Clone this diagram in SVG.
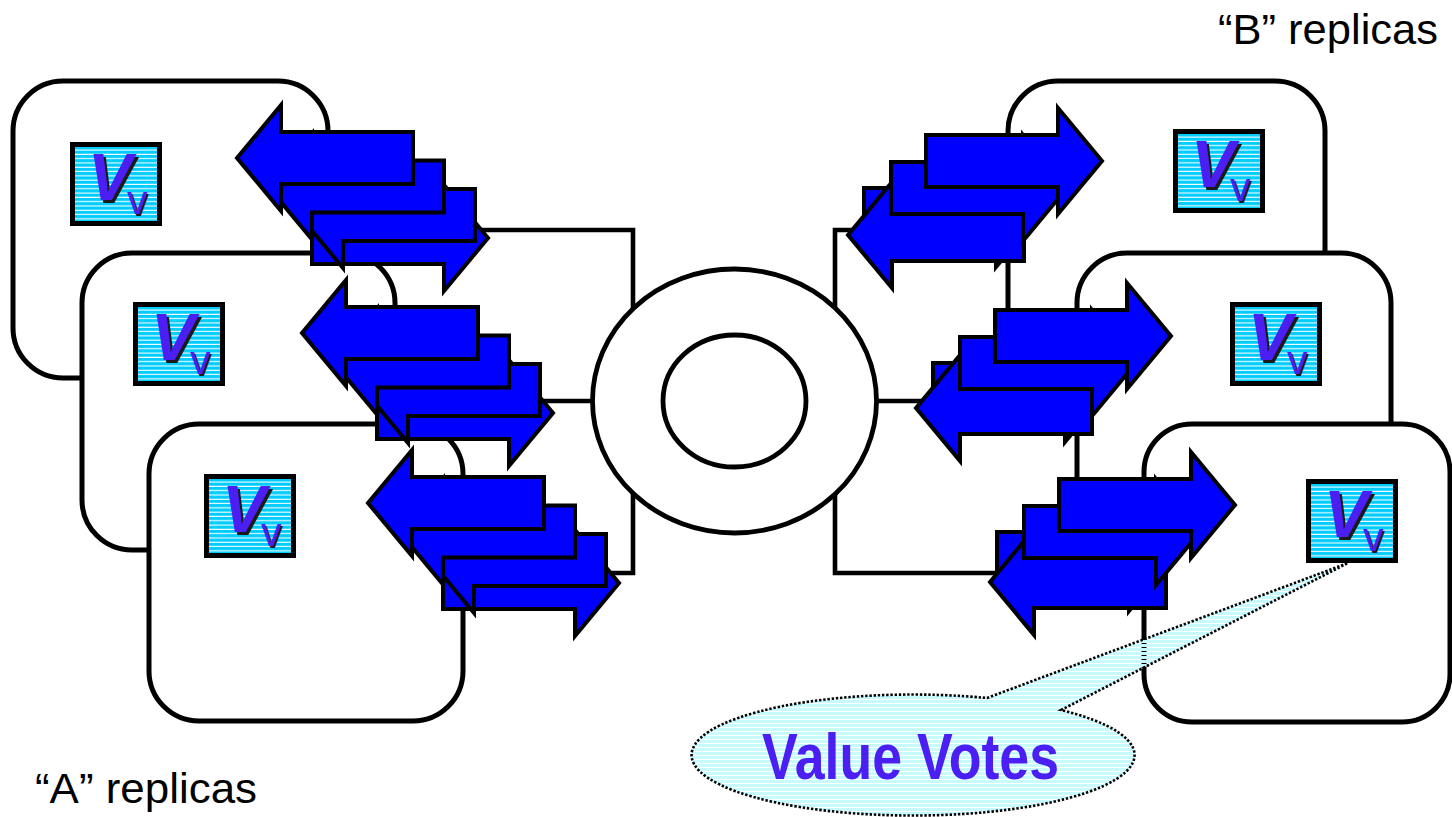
<svg xmlns="http://www.w3.org/2000/svg" xmlns:xlink="http://www.w3.org/1999/xlink" width="1452" height="817" viewBox="0 0 1452 817">
  <defs>
    <style>
      .box{fill:#fff;stroke:#000;stroke-width:5}
      .wire{fill:none;stroke:#000;stroke-width:4.6}
      .ring{fill:#fff;stroke:#000;stroke-width:4.8}
      .arw{fill:#0000FF;stroke:#000;stroke-width:4;stroke-linejoin:miter}
      .lbl{font-family:"Liberation Sans Narrow","Liberation Sans",Arial,sans-serif;font-size:43px;fill:#000}
      .vbig{font-family:"Liberation Sans",Arial,sans-serif;font-size:66px;font-weight:bold;font-style:italic}
      .vsub{font-family:"Liberation Sans",Arial,sans-serif;font-size:41px}
      .ink{fill:#4B1EF2}
      .shade{fill:#1a1a1a}
      .callout{fill:url(#paleLines);stroke:#000;stroke-width:2.6;stroke-dasharray:2.4 1.8}
      .votes{font-family:"Liberation Sans Narrow","Liberation Sans",Arial,sans-serif;font-size:65px;font-weight:bold;fill:#4B1EF2}
    </style>
    <!-- striped cyan fill of the value tiles -->
    <pattern id="cyanLines" width="8" height="4.3" patternUnits="userSpaceOnUse">
      <rect width="8" height="4.3" fill="#00CCFF"/>
      <rect y="3.2" width="8" height="1.1" fill="#fff"/>
    </pattern>
    <!-- pale striped fill of the speech bubble (gaps left open) -->
    <pattern id="paleLines" width="8" height="4" patternUnits="userSpaceOnUse">
      <rect width="8" height="3" fill="#C8FBFF"/>
    </pattern>
    <!-- value tile: V with subscript v -->
    <g id="vv">
      <rect x="2.5" y="2.5" width="87" height="79" fill="url(#cyanLines)" stroke="#000" stroke-width="5"/>
      <text x="20.5" y="60.5" class="vbig shade">V</text>
      <text x="18" y="58" class="vbig ink">V</text>
      <text x="58.5" y="73.5" class="vsub shade">v</text>
      <text x="57" y="72" class="vsub ink">v</text>
    </g>
    <!-- block arrows, tip at the origin -->
    <path id="arrowL" class="arw" d="M0,0 L44,-53 L44,-26 L176,-26 L176,26 L44,26 L44,53 Z"/>
    <path id="arrowR" class="arw" d="M0,0 L-44,-53 L-44,-26 L-176,-26 L-176,26 L-44,26 L-44,53 Z"/>
  </defs>

  <rect width="1452" height="817" fill="#fff"/>

  <!-- A replicas -->
  <g id="replica-a1">
    <rect class="box" x="13" y="81" width="315" height="297" rx="50"/>
    <use xlink:href="#vv" x="70" y="142"/>
  </g>
  <g id="replica-a2">
    <rect class="box" x="82" y="253" width="313" height="297" rx="50"/>
    <use xlink:href="#vv" x="133" y="302"/>
  </g>
  <g id="replica-a3">
    <rect class="box" x="149" y="424" width="314" height="297" rx="50"/>
    <use xlink:href="#vv" x="204" y="474"/>
  </g>

  <!-- B replicas -->
  <g id="replica-b1">
    <rect class="box" x="1008" y="81" width="317" height="297" rx="50"/>
    <use xlink:href="#vv" x="1173" y="129"/>
  </g>
  <g id="replica-b2">
    <rect class="box" x="1077" y="253" width="314" height="297" rx="50"/>
    <use xlink:href="#vv" x="1230" y="302"/>
  </g>
  <g id="replica-b3">
    <rect class="box" x="1144" y="424" width="306" height="298" rx="48"/>
    <use xlink:href="#vv" x="1306" y="479"/>
  </g>

  <!-- wiring between the replicas and the ring -->
  <g id="connectors">
    <polyline class="wire" points="328,230 633,230 633,330"/>
    <polyline class="wire" points="395,401 610,401"/>
    <polyline class="wire" points="633,470 633,573 463,573"/>
    <polyline class="wire" points="835,330 835,230 1008,230"/>
    <polyline class="wire" points="860,401 1077,401"/>
    <polyline class="wire" points="835,470 835,573 1144,573"/>
  </g>

  <!-- ring -->
  <g id="ring">
    <ellipse class="ring" cx="734.5" cy="401" rx="142" ry="132"/>
    <ellipse class="ring" cx="734.5" cy="401" rx="71.5" ry="66"/>
  </g>

  <!-- message arrows, A side -->
  <g id="arrows-a1">
    <use xlink:href="#arrowR" x="488" y="238"/>
    <use xlink:href="#arrowL" x="299" y="215"/>
    <use xlink:href="#arrowL" x="268" y="186.5"/>
    <use xlink:href="#arrowL" x="237" y="158"/>
  </g>
  <g id="arrows-a2">
    <use xlink:href="#arrowR" x="553" y="413"/>
    <use xlink:href="#arrowL" x="364" y="390"/>
    <use xlink:href="#arrowL" x="333" y="361.5"/>
    <use xlink:href="#arrowL" x="302" y="333"/>
  </g>
  <g id="arrows-a3">
    <use xlink:href="#arrowR" x="619" y="583"/>
    <use xlink:href="#arrowL" x="430" y="560"/>
    <use xlink:href="#arrowL" x="399" y="531.5"/>
    <use xlink:href="#arrowL" x="368" y="503"/>
  </g>

  <!-- message arrows, B side -->
  <g id="arrows-b1">
    <use xlink:href="#arrowR" x="1040" y="214"/>
    <use xlink:href="#arrowL" x="848" y="235"/>
    <use xlink:href="#arrowR" x="1067" y="188"/>
    <use xlink:href="#arrowR" x="1102" y="161"/>
  </g>
  <g id="arrows-b2">
    <use xlink:href="#arrowR" x="1109" y="389"/>
    <use xlink:href="#arrowL" x="916" y="408"/>
    <use xlink:href="#arrowR" x="1136" y="363"/>
    <use xlink:href="#arrowR" x="1171" y="336"/>
  </g>
  <g id="arrows-b3">
    <use xlink:href="#arrowR" x="1173" y="558"/>
    <use xlink:href="#arrowL" x="990" y="582"/>
    <use xlink:href="#arrowR" x="1200" y="532"/>
    <use xlink:href="#arrowR" x="1235" y="505"/>
  </g>

  <!-- speech bubble -->
  <g id="value-votes">
    <path class="callout" d="M987,698 L1348,563 L1061,710 A221.5,60.5 0 1 1 987,698 Z"/>
    <text class="votes" x="762" y="779" textLength="297" lengthAdjust="spacingAndGlyphs">Value Votes</text>
  </g>

  <!-- group labels -->
  <g id="labels">
    <text class="lbl" x="1218" y="44" textLength="220" lengthAdjust="spacingAndGlyphs">“B” replicas</text>
    <text class="lbl" x="35" y="803" textLength="222" lengthAdjust="spacingAndGlyphs">“A” replicas</text>
  </g>
</svg>
